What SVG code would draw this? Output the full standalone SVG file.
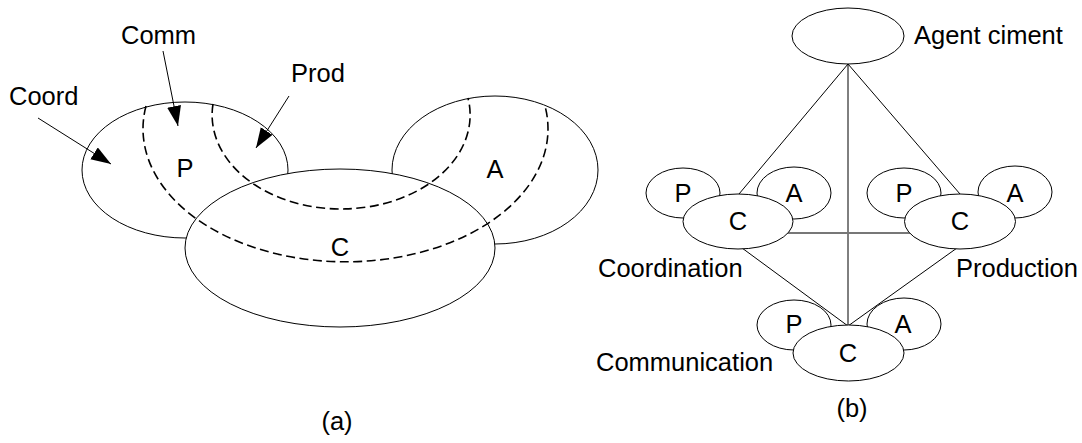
<svg xmlns="http://www.w3.org/2000/svg" width="1082" height="443" viewBox="0 0 1082 443">
<style>
.sh{fill:#fff;stroke:#000;stroke-width:1}
.ln{stroke:#000;stroke-width:1;fill:none}
.dash{fill:none;stroke:#000;stroke-width:1.6;stroke-dasharray:9,4.5}
.t{font-family:"Liberation Sans",Arial,sans-serif;font-size:25.5px;fill:#000}
.m{text-anchor:middle}
</style>
<defs>
<marker id="ah" markerUnits="userSpaceOnUse" markerWidth="21" markerHeight="15" refX="20" refY="7" orient="auto">
<path d="M0,0 L20,7 L0,14 z" fill="#000"/>
</marker>
</defs>
<rect width="1082" height="443" fill="#fff"/>

<!-- (a) -->
<g id="a-P"><ellipse class="sh" cx="185" cy="170" rx="103" ry="68"/></g>
<g id="a-A"><ellipse class="sh" cx="495" cy="170" rx="103" ry="74"/></g>
<g id="a-C"><ellipse class="sh" cx="340" cy="248" rx="155" ry="79"/></g>
<g id="a-regions">
<path class="dash" d="M146,106 A202.5,133 0 1 0 545,106"/>
<path class="dash" d="M213,104 A129,94 0 1 0 468,98"/>
</g>
<g id="a-labels">
<text class="t m" x="185" y="177">P</text>
<text class="t m" x="495" y="178">A</text>
<text class="t m" x="340" y="256">C</text>
<text class="t" x="9" y="105">Coord</text>
<text class="t" x="121" y="44">Comm</text>
<text class="t" x="291" y="82">Prod</text>
<text class="t m" x="337" y="430">(a)</text>
</g>
<g id="a-arrows">
<line class="ln" x1="38" y1="118" x2="111" y2="164" marker-end="url(#ah)"/>
<line class="ln" x1="163" y1="51" x2="178" y2="126" marker-end="url(#ah)"/>
<line class="ln" x1="289" y1="96" x2="256" y2="148" marker-end="url(#ah)"/>
</g>

<!-- (b) connectors -->
<g id="connectors">
<line class="ln" x1="848" y1="64" x2="739" y2="194"/>
<line class="ln" x1="848" y1="64" x2="960" y2="194"/>
<line class="ln" x1="848" y1="64" x2="848" y2="326"/>
<line class="ln" x1="742" y1="248" x2="848" y2="326"/>
<line class="ln" x1="957" y1="248" x2="848" y2="326"/>
<line x1="786" y1="233" x2="910" y2="233" stroke="#777" stroke-width="1.8"/>
</g>

<g id="agent-ciment">
<ellipse class="sh" cx="848" cy="36" rx="56" ry="28"/>
<text class="t" x="914" y="44">Agent ciment</text>
</g>

<g id="coordination">
<ellipse class="sh" cx="683" cy="193" rx="37" ry="25"/>
<ellipse class="sh" cx="794" cy="193" rx="37" ry="26"/>
<ellipse class="sh" cx="738" cy="221.5" rx="55" ry="27.5"/>
<text class="t m" x="683" y="202">P</text>
<text class="t m" x="794" y="202">A</text>
<text class="t m" x="738" y="230">C</text>
<text class="t" x="598" y="277">Coordination</text>
</g>

<g id="production">
<ellipse class="sh" cx="904" cy="193" rx="37" ry="25"/>
<ellipse class="sh" cx="1015" cy="192" rx="37" ry="26"/>
<ellipse class="sh" cx="960" cy="221.5" rx="55.5" ry="27.5"/>
<text class="t m" x="904" y="202">P</text>
<text class="t m" x="1015" y="202">A</text>
<text class="t m" x="960" y="230">C</text>
<text class="t" x="956" y="277">Production</text>
</g>

<g id="communication">
<ellipse class="sh" cx="794" cy="325" rx="37" ry="25"/>
<ellipse class="sh" cx="904" cy="324" rx="37" ry="26"/>
<ellipse class="sh" cx="848.5" cy="353" rx="55.5" ry="28"/>
<text class="t m" x="794" y="333">P</text>
<text class="t m" x="903" y="333">A</text>
<text class="t m" x="848" y="362">C</text>
<text class="t" x="596" y="371">Communication</text>
</g>

<text class="t m" x="852" y="417">(b)</text>
</svg>
